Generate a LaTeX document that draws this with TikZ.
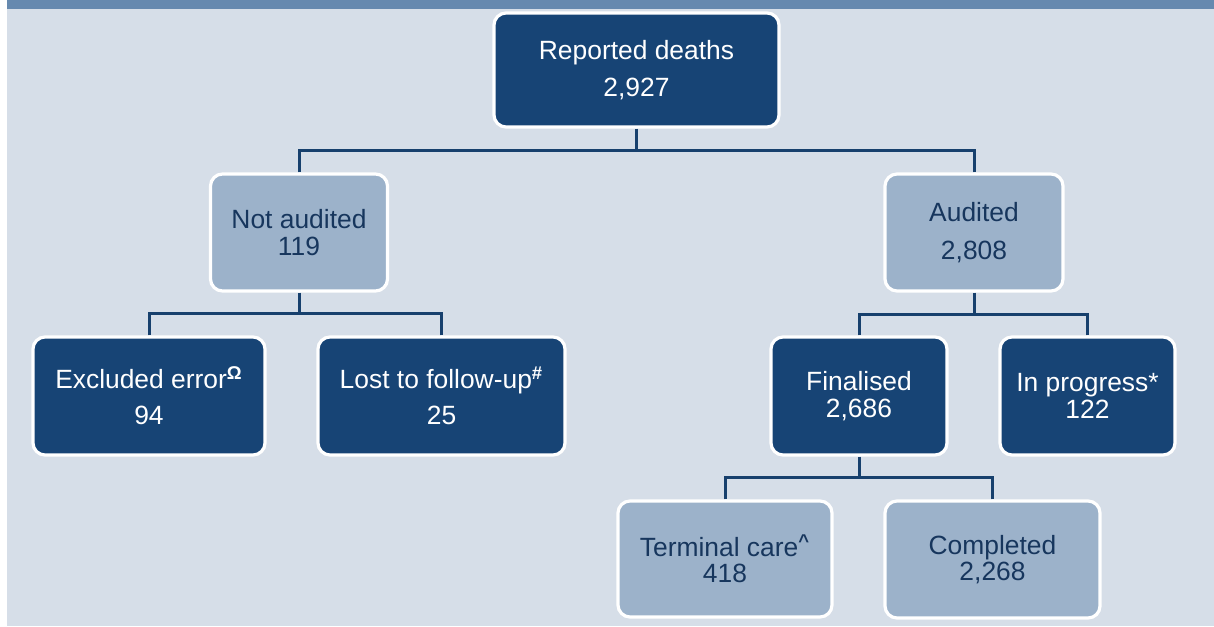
\documentclass[tikz,border=0pt]{standalone}
\usepackage{fontspec}
\setmainfont{Liberation Sans}
\definecolor{bandblue}{HTML}{6689AF}
\definecolor{paleback}{HTML}{D6DEE8}
\definecolor{darkbox}{HTML}{174475}
\definecolor{lightbox}{HTML}{9CB2CA}
\definecolor{linkblue}{HTML}{17406D}
\definecolor{textblue}{HTML}{17365D}
\begin{document}
\begin{tikzpicture}[x=0.5pt, y=-0.5pt,
	box/.style={rectangle, rounded corners=6pt, draw=white, line width=1.6pt, align=center, inner sep=0pt, font=\fontsize{13.2}{13.2}\selectfont},
	dark/.style={box, fill=darkbox, text=white},
	light/.style={box, fill=lightbox, text=textblue},
	link/.style={draw=linkblue, line width=1.5pt}]
	\useasboundingbox (0,0) rectangle (1214,626);
	\fill[white] (0,0) rectangle (1214,626);
	\fill[paleback] (7,0) rectangle (1214,626);
	\fill[bandblue] (7,0) rectangle (1214,9);

	\node[dark, minimum width=142.5pt, minimum height=57pt] (rep) at (636.5,70) {Reported deaths\\[5.5pt]2,927};
	\node[light, minimum width=88.5pt, minimum height=58.5pt] (nau) at (299,232.5) {Not audited\\119};
	\node[light, minimum width=89pt, minimum height=58.5pt] (aud) at (974,232.5) {Audited\\[5.5pt]2,808};
	\node[dark, minimum width=116pt, minimum height=59pt] (exc) at (149,396) {Excluded error\textsuperscript{\textbf{Ω}}\\[5pt]94};
	\node[dark, minimum width=123.5pt, minimum height=59pt] (lost) at (441.5,396) {Lost to follow-up\textsuperscript{\textbf{\#}}\\[5pt]25};
	\node[dark, minimum width=88pt, minimum height=59pt] (fin) at (859,396) {Finalised\\2,686};
	\node[dark, minimum width=87.5pt, minimum height=59pt] (prog) at (1087.5,396) {In progress*\\122};
	\node[light, minimum width=107pt, minimum height=58pt] (term) at (725,559) {Terminal care\textsuperscript{\textbf{\textasciicircum}}\\418};
	\node[light, minimum width=107.5pt, minimum height=58.5pt] (comp) at (992.5,559.5) {Completed\\2,268};

	\coordinate (j1) at (636.5,150);
	\coordinate (j2) at (299,313);
	\coordinate (j3) at (974,314);
	\coordinate (j4) at (859,477);

	\draw[link] (rep) -- (j1);
	\draw[link] (nau) |- (j1);
	\draw[link] (aud) |- (j1);
	\draw[link] (nau) -- (j2);
	\draw[link] (exc) |- (j2);
	\draw[link] (lost) |- (j2);
	\draw[link] (aud) -- (j3);
	\draw[link] (fin) |- (j3);
	\draw[link] (prog) |- (j3);
	\draw[link] (fin) -- (j4);
	\draw[link] (term) |- (j4);
	\draw[link] (comp) |- (j4);
\end{tikzpicture}
\end{document}
